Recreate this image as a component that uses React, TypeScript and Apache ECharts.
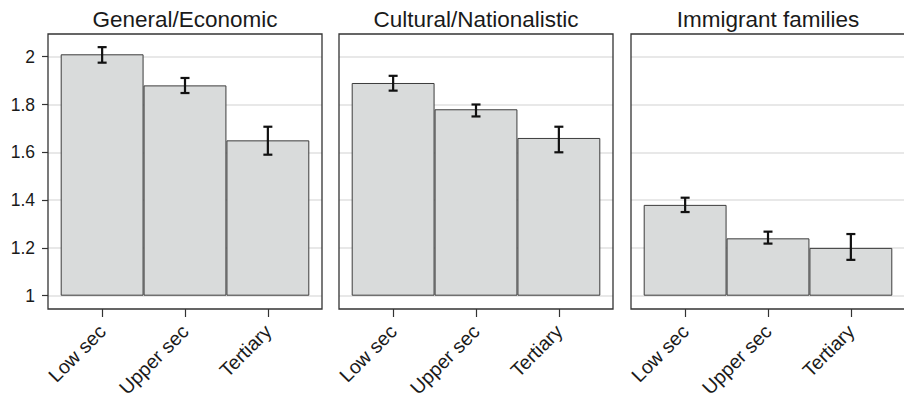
import React, { useEffect, useRef } from "react";
import * as echarts from "echarts";

const categories = ["Low sec", "Upper sec", "Tertiary"];
const panelTitles = ["General/Economic", "Cultural/Nationalistic", "Immigrant families"];

const generalMeans = [2.01, 1.88, 1.65];
const generalLow = [1.975, 1.848, 1.59];
const generalHigh = [2.04, 1.911, 1.707];

const culturalMeans = [1.89, 1.78, 1.66];
const culturalLow = [1.858, 1.75, 1.6];
const culturalHigh = [1.92, 1.8, 1.707];

const immigrantMeans = [1.38, 1.24, 1.2];
const immigrantLow = [1.35, 1.218, 1.15];
const immigrantHigh = [1.41, 1.268, 1.258];

const yMin = 1;
const yMax = 2;
const yInterval = 0.2;
const barBase = 1;

const FONT = "'Liberation Sans', Arial, Helvetica, sans-serif";

export default function App() {
  const ref = useRef<HTMLDivElement>(null);
  useEffect(() => {
    if (!ref.current) return;
    const chart = echarts.init(ref.current, null, { renderer: "svg" });

    const panels = [
      { title: panelTitles[0], means: generalMeans, low: generalLow, high: generalHigh },
      { title: panelTitles[1], means: culturalMeans, low: culturalLow, high: culturalHigh },
      { title: panelTitles[2], means: immigrantMeans, low: immigrantLow, high: immigrantHigh },
    ];
    const boxLeft = [48, 339, 631];
    const boxWidth = 274;
    const boxTop = 34;
    const boxBottom = 309;
    const plotTop = 56.7;
    const plotHeight = 239;
    const inset = 12.7;
    // extended range of the bar grid so that it fills the whole box
    const pxPerUnit = plotHeight / (yMax - yMin);
    const extMax = yMax + (plotTop - boxTop) / pxPerUnit;
    const extMin = yMin - (boxBottom - (plotTop + plotHeight)) / pxPerUnit;

    const grid: any[] = [];
    const xAxis: any[] = [];
    const yAxis: any[] = [];
    const series: any[] = [];
    const graphic: any[] = [];

    panels.forEach((p, i) => {
      const bl = boxLeft[i];
      // background grid (gridlines + y axis)
      grid.push({ left: bl, width: boxWidth, top: plotTop, height: plotHeight });
      xAxis.push({ gridIndex: 2 * i, type: "value", min: 0, max: 1, show: false });
      yAxis.push({
        gridIndex: 2 * i,
        type: "value",
        min: yMin,
        max: yMax,
        interval: yInterval,
        axisLine: { show: false },
        axisTick: { show: i === 0, length: 6, lineStyle: { color: "#333", width: 1.2 } },
        axisLabel: {
          show: i === 0,
          margin: 13,
          fontSize: 17.5,
          color: "#1a1a1a",
          fontFamily: FONT,
          formatter: (v: number) => String(Math.round(v * 10) / 10),
        },
        splitLine: { show: true, lineStyle: { color: "#e8e8e8", width: 2 } },
      });
      // bar grid, spanning the whole box height
      grid.push({ left: bl + inset, width: boxWidth - 2 * inset, top: boxTop, height: boxBottom - boxTop });
      xAxis.push({
        gridIndex: 2 * i + 1,
        type: "category",
        data: categories,
        position: "bottom",
        axisLine: { show: false },
        axisTick: { show: true, alignWithLabel: true, length: 8, lineStyle: { color: "#333", width: 1.2 } },
        axisLabel: {
          rotate: 45,
          margin: 19,
          fontSize: 19.5,
          color: "#1a1a1a",
          fontFamily: FONT,
          interval: 0,
        },
        splitLine: { show: false },
      });
      yAxis.push({ gridIndex: 2 * i + 1, type: "value", min: extMin, max: extMax, show: false, splitLine: { show: false } });

      const stackId = "s" + i;
      series.push({
        type: "bar",
        xAxisIndex: 2 * i + 1,
        yAxisIndex: 2 * i + 1,
        stack: stackId,
        data: p.means.map(() => barBase),
        barWidth: "100%",
        itemStyle: { color: "transparent", borderWidth: 0 },
        silent: true,
        z: 2,
      });
      series.push({
        type: "bar",
        xAxisIndex: 2 * i + 1,
        yAxisIndex: 2 * i + 1,
        stack: stackId,
        data: p.means.map((m) => +(m - barBase).toFixed(4)),
        barWidth: "100%",
        itemStyle: { color: "#d9dbdb", borderColor: "#3c3c3c", borderWidth: 1 },
        z: 2,
      });
      series.push({
        type: "custom",
        xAxisIndex: 2 * i + 1,
        yAxisIndex: 2 * i + 1,
        data: p.means.map((_, k) => [k, p.low[k], p.high[k]]),
        encode: { x: 0, y: [1, 2] },
        z: 3,
        renderItem: (params: any, api: any) => {
          const x = api.value(0);
          const lo = api.coord([x, api.value(1)]);
          const hi = api.coord([x, api.value(2)]);
          const w = 4.5;
          const st = { stroke: "#111", lineWidth: 2.2, fill: null };
          return {
            type: "group",
            children: [
              { type: "line", shape: { x1: hi[0], y1: hi[1], x2: lo[0], y2: lo[1] }, style: st },
              { type: "line", shape: { x1: hi[0] - w, y1: hi[1], x2: hi[0] + w, y2: hi[1] }, style: st },
              { type: "line", shape: { x1: lo[0] - w, y1: lo[1], x2: lo[0] + w, y2: lo[1] }, style: st },
            ],
          };
        },
      });

      graphic.push({
        type: "rect",
        shape: { x: bl, y: boxTop, width: boxWidth, height: boxBottom - boxTop },
        style: { fill: "none", stroke: "#333", lineWidth: 1.3 },
        z: 10,
      });
      graphic.push({
        type: "text",
        x: bl + boxWidth / 2,
        y: 19,
        style: {
          text: p.title,
          fontSize: 22.5,
          fontFamily: FONT,
          fill: "#1a1a1a",
          textAlign: "center",
          textVerticalAlign: "middle",
        },
        z: 10,
      });
    });

    chart.setOption({
      animation: false,
      backgroundColor: "#ffffff",
      grid,
      xAxis,
      yAxis,
      series,
      graphic,
    });
    return () => chart.dispose();
  }, []);

  return (
    <div
      ref={ref}
      style={{ position: "fixed", left: 0, top: 0, width: 904, height: 401 }}
    />
  );
}
